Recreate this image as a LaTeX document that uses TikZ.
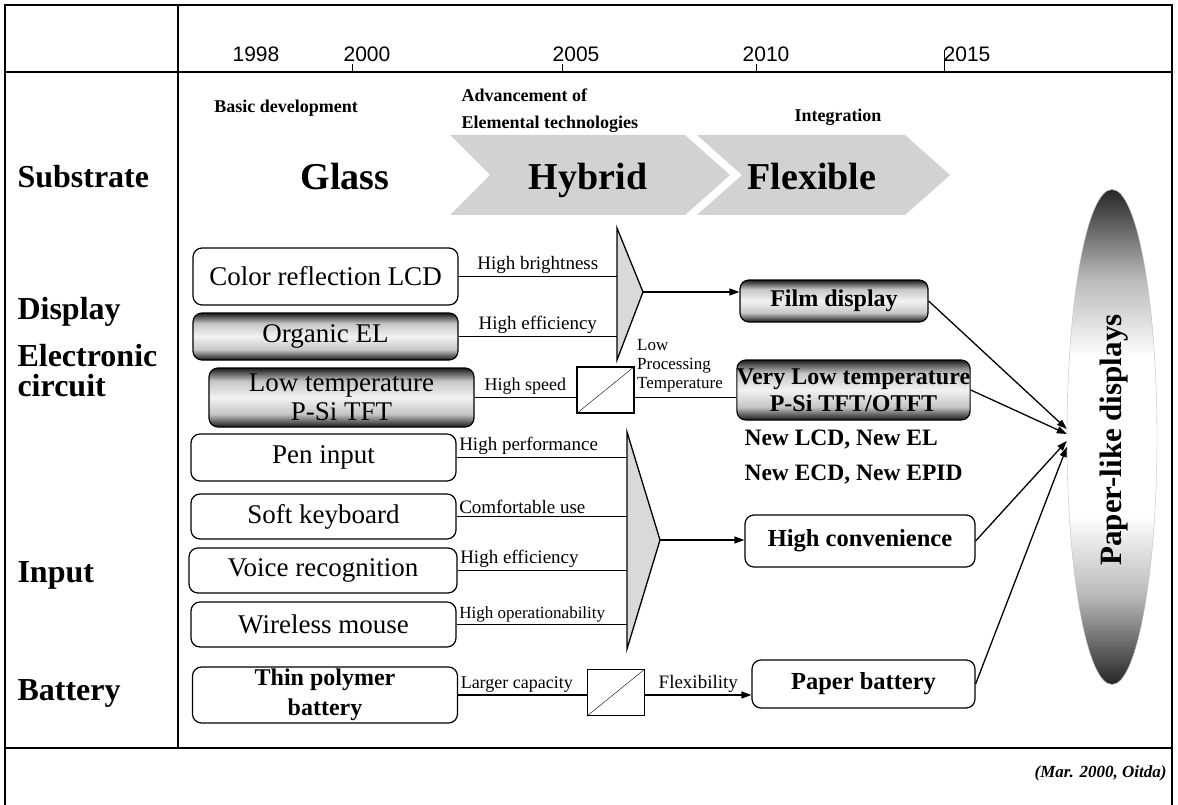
\documentclass[tikz,border=0pt]{standalone}
\usepackage{fontspec}
\setmainfont{Liberation Serif}
\newfontfamily\yearfont{Liberation Sans}
\usetikzlibrary{arrows.meta,calc,shapes.geometric}

\pgfdeclareverticalshading{boxglow}{100bp}{color(0bp)=(black!90); color(25bp)=(black!90); color(36bp)=(gray!45); color(50bp)=(gray!10); color(64bp)=(gray!45); color(75bp)=(black!90); color(100bp)=(black!90)}
\pgfdeclareverticalshading{paperglow}{100bp}{color(0bp)=(black!85); color(25bp)=(black!85); color(34bp)=(gray!55); color(42bp)=(white); color(58bp)=(white); color(66bp)=(gray!55); color(75bp)=(black!85); color(100bp)=(black!85)}

\tikzset{
  rowlabel/.style={anchor=west, align=left, font=\fontsize{32}{30}\selectfont\bfseries},
  yearlabel/.style={anchor=base, font=\yearfont\fontsize{21}{21}\selectfont},
  phase/.style={align=left, font=\fontsize{18}{27}\selectfont\bfseries},
  era/.style={anchor=base, font=\fontsize{38}{38}\selectfont\bfseries},
  chevron/.style={fill=gray!35, draw=none},
  techbox/.style={draw, line width=1.2pt, rounded corners=9pt, inner sep=0pt, minimum width=265pt, align=center, font=\fontsize{27}{29}\selectfont},
  glowbox/.style={techbox, shade, shading=boxglow},
  goalbox/.style={techbox, font=\fontsize{24.5}{27}\selectfont\bfseries},
  newtech/.style={anchor=west, font=\fontsize{23.5}{23.5}\selectfont\bfseries},
  flow/.style={line width=1.3pt},
  edgelabel/.style={inner sep=2pt, font=\fontsize{19}{19}\selectfont},
  funnel/.style={draw, line width=1.3pt, fill=gray!30},
  convert/.style={draw, line width=1.3pt, fill=white, minimum width=57pt, minimum height=46pt, inner sep=0pt},
}

\begin{document}
\begin{tikzpicture}[x=1pt,y=-1pt,>={Triangle[length=10pt,width=7pt]}]

\useasboundingbox (0,0) rectangle (1178,805);

% frame and time axis
\draw[line width=1.3pt] (5,805) -- (5,5) -- (1172,5) -- (1172,805);
\draw[line width=1.3pt] (5,72) -- (1172,72);
\draw[line width=1.3pt] (5,748) -- (1172,748);
\draw[line width=1.3pt] (178,5) -- (178,748);

\node[yearlabel] (y1998) at (256,62) {1998};
\node[yearlabel] (y2000) at (367,62) {2000};
\node[yearlabel] (y2005) at (576,62) {2005};
\node[yearlabel] (y2010) at (766,62) {2010};
\node[yearlabel] (y2015) at (967,62) {2015};
\draw (352,72) -- (352,64);
\draw (562,72) -- (562,64);
\draw (756,72) -- (756,64);
\draw (944,72) -- (944,50);

% row titles
\node[rowlabel] (sub) at (14,177) {Substrate};
\node[rowlabel] (dsp) at (14,312) {Display};
\node[rowlabel] (ele) at (14,371) {Electronic\\circuit};
\node[rowlabel] (inp) at (14,575) {Input};
\node[rowlabel] (bat) at (14,693) {Battery};

% substrate phases
\node[phase] (basic) at (286,108) {Basic development};
\node[phase, anchor=west] (adv) at (458,111) {Advancement of\\Elemental technologies};
\node[phase] (integ) at (838,117) {Integration};

\fill[chevron] (450,135) -- (685,135) -- (730,175) -- (685,215) -- (450,215) -- (490,175) -- cycle;
\fill[chevron] (697,135) -- (905,135) -- (950,175) -- (905,215) -- (697,215) -- (742,175) -- cycle;

\node[era] (glass) at (345,190) {Glass};
\node[era] (hybrid) at (588,190) {Hybrid};
\node[era] (flex) at (812,190) {Flexible};

% element technologies
\node[techbox, minimum height=57pt] (lcd) at (325.5,276.5) {Color reflection LCD};
\node[glowbox, minimum height=47pt] (oel) at (325.5,336.5) {Organic EL};
\node[glowbox, minimum height=59pt] (ltps) at (341.5,397.5) {Low temperature\\P-Si TFT};
\node[techbox, minimum height=47pt] (pen) at (323.5,457.5) {Pen input};
\node[techbox, minimum height=45pt] (soft) at (323.5,516.5) {Soft keyboard};
\node[techbox, minimum height=45pt, minimum width=268pt] (voice) at (323,570.5) {Voice recognition};
\node[techbox, minimum height=45pt] (mouse) at (323.5,624.5) {Wireless mouse};
\node[techbox, minimum height=56pt, font=\fontsize{24}{30}\selectfont\bfseries] (tpb) at (325,695) {Thin polymer\\battery};

% integrated results
\node[glowbox, minimum width=188pt, minimum height=42pt, font=\fontsize{24}{24}\selectfont\bfseries] (film) at (834,301) {Film display};
\node[glowbox, minimum width=223pt, minimum height=60pt, font=\fontsize{24}{27}\selectfont\bfseries] (vltp) at (853.5,390) {Very Low temperature\\P-Si TFT/OTFT};
\node[goalbox, minimum width=230pt, minimum height=52pt] (conv) at (860,541) {High convenience};
\node[goalbox, minimum width=223pt, minimum height=48pt] (pbat) at (863.5,684) {Paper battery};

\node[newtech] (newa) at (741,440) {New LCD, New EL};
\node[newtech] (newb) at (741,475) {New ECD, New EPID};

% funnels and converters
\coordinate (dtop) at (617,228);
\coordinate (dbot) at (617,360);
\coordinate (dtip) at (643,292);
\draw[funnel] (dtop) -- (dtip) -- (dbot) -- cycle;

\coordinate (itop) at (627,432);
\coordinate (ibot) at (627,649);
\coordinate (itip) at (660,540);
\draw[funnel] (itop) -- (itip) -- (ibot) -- cycle;

\node[convert] (sq1) at (605.5,390) {};
\draw (sq1.south west) -- (sq1.north east);
\node[convert] (sq2) at (616,692.5) {};
\draw (sq2.south west) -- (sq2.north east);

% display and circuit
\draw[flow] (lcd.east) -- (lcd.east -| dtop) node[midway, above, edgelabel] {High brightness};
\draw[flow] (oel.east) -- (oel.east -| dtop) node[midway, above, edgelabel] {High efficiency};
\draw[flow,->] (dtip) -- (dtip -| film.west);
\draw[flow] (ltps.east) -- (ltps.east -| sq1.west) node[midway, above, edgelabel, font=\fontsize{18}{18}\selectfont] {High speed};
\draw[flow] (ltps.east -| sq1.east) -- (ltps.east -| vltp.west);
\node[anchor=south west, align=left, inner sep=0pt, font=\fontsize{17}{19}\selectfont] (lpt) at (637,392) {Low\\Processing\\Temperature};

% input
\draw[flow] (pen.east) -- (pen.east -| itop) node[pos=0, above right, edgelabel] {High performance};
\draw[flow] (soft.east) -- (soft.east -| itop) node[pos=0, above right, edgelabel] {Comfortable use};
\draw[flow] (voice.east) -- (voice.east -| itop) node[pos=0, above right, edgelabel] {High efficiency};
\draw[flow] (mouse.east) -- (mouse.east -| itop) node[pos=0, above right, edgelabel, font=\fontsize{17}{17}\selectfont] {High operationability};
\draw[flow,->] (itip) -- (itip -| conv.west);

% battery
\draw[flow] (tpb.east) -- (tpb.east -| sq2.west) node[pos=0, above right, edgelabel, font=\fontsize{18}{18}\selectfont] {Larger capacity};
\draw[flow,->] (tpb.east -| sq2.east) -- (tpb.east -| pbat.west) node[midway, above, edgelabel] {Flexibility};

% goal
\node[ellipse, shade, shading=paperglow, draw=gray!50, minimum width=90pt, minimum height=495pt, inner sep=0pt] (pld) at (1112,437) {};
\node[rotate=90, font=\fontsize{31}{31}\selectfont\bfseries] (pldtext) at (1114,440) {Paper-like displays};

\draw[flow,->] (film.east) -- ([yshift=8pt]pld.west);
\draw[flow,->] (vltp.east) -- ([yshift=3pt]pld.west);
\draw[flow,->] (conv.east) -- ([yshift=-4pt]pld.west);
\draw[flow,->] (pbat.east) -- ([yshift=-10pt]pld.west);

\node[anchor=east, font=\fontsize{17}{17}\selectfont\bfseries\itshape] (src) at (1170,773) {(Mar. 2000, Oitda)};

\end{tikzpicture}
\end{document}
